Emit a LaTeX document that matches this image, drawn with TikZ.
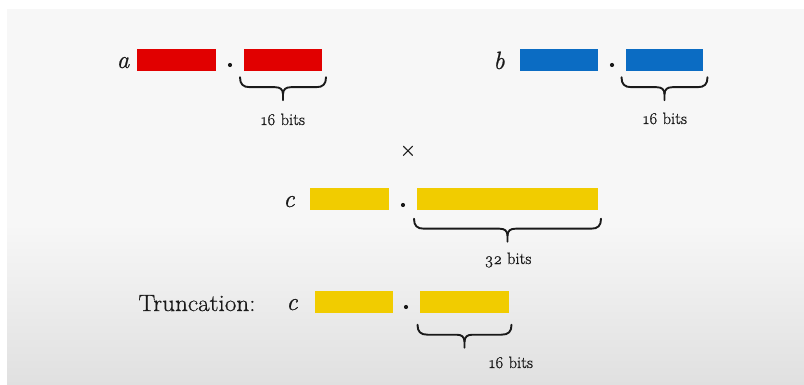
\documentclass[tikz,border=0pt]{standalone}
\usepackage{fontspec}
\usetikzlibrary{calc}

% heavier serif faces for the slide text
\newfontfamily\slide{Latin Modern Roman}[FakeBold=0.8, Numbers=OldStyle]
\newfontfamily\slidewide{Latin Modern Roman}[FakeBold=0.7, FakeStretch=1.07]

\definecolor{bitred}{HTML}{E10000}
\definecolor{bitblue}{HTML}{0B6CC3}
\definecolor{bityellow}{HTML}{F1CC00}
\definecolor{ink}{HTML}{1A1A1A}
\definecolor{panel}{HTML}{F7F7F7}
\definecolor{panelbottom}{HTML}{E0E0E0}

\tikzset{
  field/.style={draw=none, fill=#1, minimum height=22pt, inner sep=0pt},
  radix/.style={circle, fill=ink, inner sep=0pt, minimum size=4.2pt},
  var/.style={text=ink, anchor=base, inner sep=0pt,
    font=\slide\itshape\fontsize{25}{28}\selectfont},
  caption/.style={text=ink, anchor=base, inner sep=0pt,
    font=\slidewide\fontsize{23.5}{28}\selectfont},
  bitlabel/.style={text=ink, anchor=base, inner sep=0pt,
    font=\slide\fontsize{16.5}{18}\selectfont},
  bracestyle/.style={draw=ink, line width=1.9pt, line cap=round, line join=round},
  % horizontal brace hanging below a field; the argument is its width
  pics/bitbrace/.style={code={
    \draw[bracestyle] ({-#1/2},0) .. controls ({-#1/2},7) and ({-#1/2+3},10)
      .. ({-#1/2+10},10) -- (-8,10) .. controls (-3,10) and (0,12) .. (0,17) -- (0,23);
    \draw[bracestyle] ({#1/2},0) .. controls ({#1/2},7) and ({#1/2-3},10)
      .. ({#1/2-10},10) -- (8,10) .. controls (3,10) and (0,12) .. (0,17);
  }}
}

\begin{document}
\begin{tikzpicture}[x=1pt, y=-1pt]
  \useasboundingbox (0,0) rectangle (804,385);

  % slide background
  \fill[panel] (7,9) rectangle (804,225);
  \shade[top color=panel, bottom color=panelbottom] (7,224.5) rectangle (804,385);

  % a = integer part . fractional part
  \node[var] (a-name) at (123,68) {a};
  \node[field=bitred, minimum width=79pt] (a-int) at (176.5,60) {};
  \node[radix] (a-dot) at (230,65) {};
  \node[field=bitred, minimum width=78pt] (a-frac) at (283,60) {};
  \pic at ($(a-frac.south)+(0,6)$) {bitbrace=86};
  \node[bitlabel] (a-bits) at (283,125) {16 bits};

  % b = integer part . fractional part
  \node[var] (b-name) at (499,69) {b};
  \node[field=bitblue, minimum width=78pt] (b-int) at (559,60) {};
  \node[radix] (b-dot) at (612,65) {};
  \node[field=bitblue, minimum width=77pt] (b-frac) at (664.5,60) {};
  \pic at ($(b-frac.south)+(0,6)$) {bitbrace=86};
  \node[bitlabel] (b-bits) at (665,124) {16 bits};

  % product sign
  \node[text=ink, font=\slide\fontsize{22}{22}\selectfont, inner sep=0pt] (times) at (408,151) {×};

  % full-width product
  \node[var] (c-name) at (289,207) {c};
  \node[field=bityellow, minimum width=79pt] (c-int) at (349.5,199.5) {};
  \node[radix] (c-dot) at (403,205) {};
  \node[field=bityellow, minimum width=181pt] (c-frac) at (507.5,199.5) {};
  \pic at ($(c-frac.south)+(0,8)$) {bitbrace=187};
  \node[bitlabel] (c-bits) at (508,264) {32 bits};

  % truncated product
  \node[caption] (trunc) at (197,311) {Truncation:};
  \node[var] (t-name) at (292,310) {c};
  \node[field=bityellow, minimum width=78pt] (t-int) at (354,301.5) {};
  \node[radix] (t-dot) at (406,307) {};
  \node[field=bityellow, minimum width=89pt] (t-frac) at (464.5,301.5) {};
  \pic at ($(t-frac.south)+(0,12)$) {bitbrace=94};
  \node[bitlabel] (t-bits) at (511,368) {16 bits};
\end{tikzpicture}
\end{document}
